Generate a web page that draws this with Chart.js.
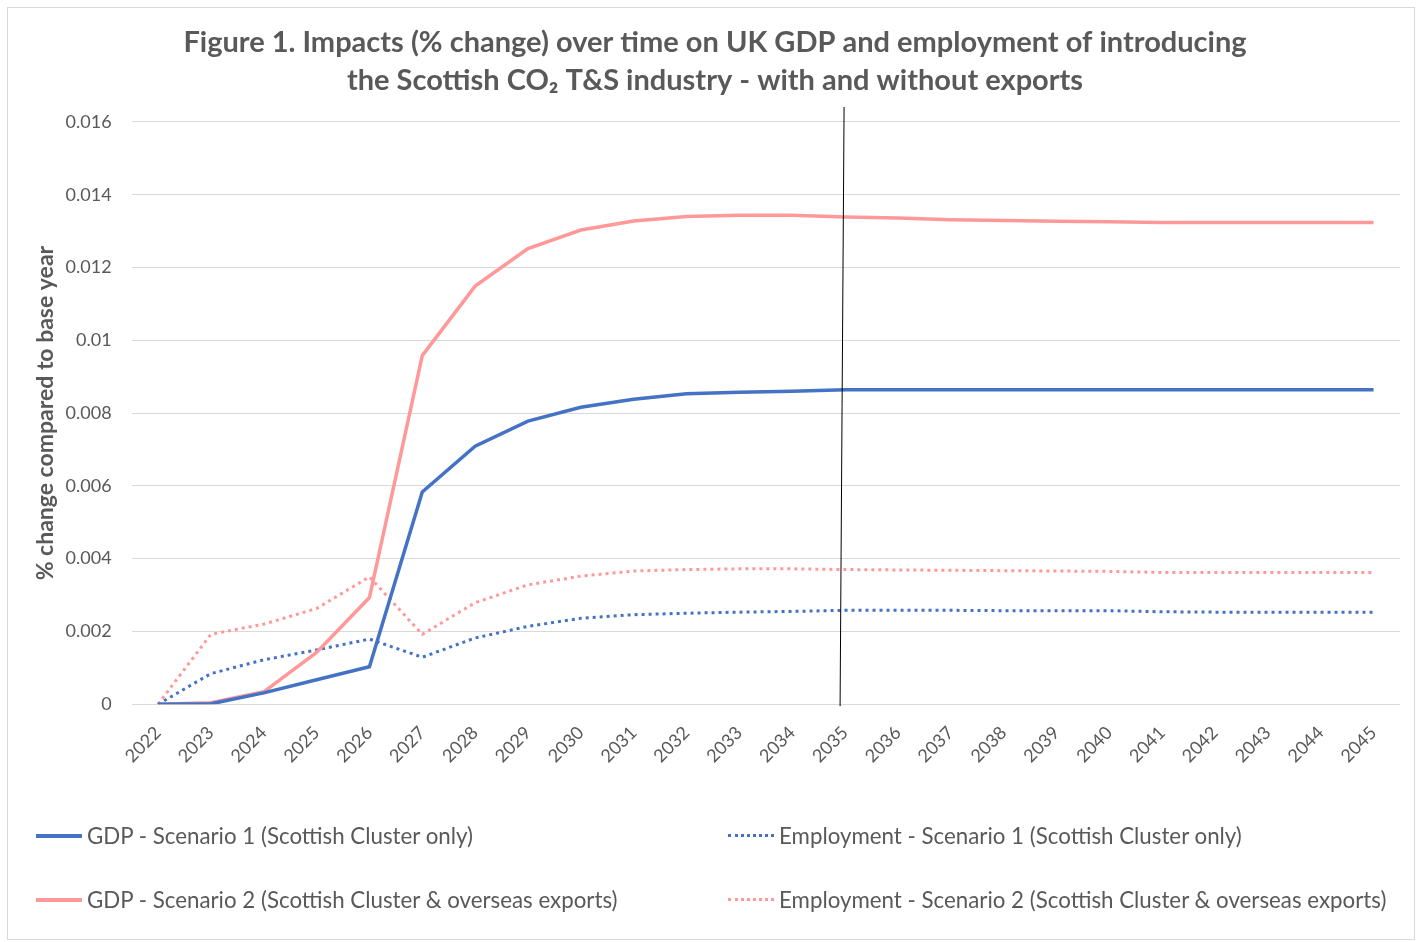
<!DOCTYPE html>
<html>
<head>
<meta charset="utf-8">
<script src="https://cdn.jsdelivr.net/npm/chart.js@4.4.1/dist/chart.umd.min.js"></script>
<style>
  html, body { margin: 0; padding: 0; background: #ffffff; }
  #marco {
    position: absolute; left: 7px; top: 7px; width: 1406px; height: 931px;
    border: 1px solid #d9d9d9; background: #fff;
  }
  #lienzo { position: absolute; left: 0; top: 0; }
  .leyenda {
    position: absolute; font-family: Lato, "Open Sans", sans-serif; font-size: 22.3px;
    color: #595959; white-space: nowrap; display: flex; align-items: center;
  }
  .muestra { display: inline-block; width: 46px; height: 0; margin-right: 5px; }
</style>
</head>
<body>
<div id="marco">
  <canvas id="lienzo"></canvas>
</div>
<script>
// Datos
const anios = ['2022','2023','2024','2025','2026','2027','2028','2029','2030','2031','2032','2033',
               '2034','2035','2036','2037','2038','2039','2040','2041','2042','2043','2044','2045'];

const gdpEsc1 = [0, 0.00001, 0.00031, 0.00067, 0.00103, 0.00583, 0.00709, 0.00778, 0.00816, 0.00838,
                 0.00853, 0.00857, 0.00860, 0.00864, 0.00864, 0.00864, 0.00864, 0.00864, 0.00864,
                 0.00864, 0.00864, 0.00864, 0.00864, 0.00864];

const gdpEsc2 = [0, 0.00004, 0.00034, 0.00142, 0.00293, 0.00958, 0.01149, 0.01252, 0.01303, 0.01328,
                 0.0134, 0.01344, 0.01344, 0.01339, 0.01336, 0.01331, 0.01329, 0.01327, 0.01326,
                 0.01324, 0.01324, 0.01324, 0.01324, 0.01324];

const empEsc1 = [0, 0.00084, 0.00122, 0.00149, 0.00179, 0.00129, 0.00182, 0.00214, 0.00236, 0.00246,
                 0.0025, 0.00253, 0.00255, 0.00258, 0.00258, 0.00258, 0.00257, 0.00257, 0.00257,
                 0.00254, 0.00253, 0.00253, 0.00253, 0.00253];

const empEsc2 = [0, 0.00192, 0.0022, 0.00263, 0.0035, 0.00192, 0.00279, 0.00328, 0.00352, 0.00366,
                 0.0037, 0.00372, 0.00372, 0.0037, 0.00369, 0.00368, 0.00367, 0.00366, 0.00365,
                 0.00362, 0.00362, 0.00362, 0.00362, 0.00362];

const etiquetasSeries = [
  'GDP - Scenario 1 (Scottish Cluster only)',
  'GDP - Scenario 2 (Scottish Cluster & overseas exports)',
  'Employment - Scenario 1 (Scottish Cluster only)',
  'Employment - Scenario 2 (Scottish Cluster & overseas exports)'
];

const anioMarcado = '2035';

const azul = '#4472c4';
const rosa = '#ff9999';
const gris = '#595959';
const fuente = 'Lato, "Open Sans", sans-serif';

const canvas = document.getElementById('lienzo');
canvas.width = 1406;
canvas.height = 931;
canvas.style.width = '1406px';
canvas.style.height = '931px';

// Línea vertical en el año marcado
const lineaVertical = {
  id: 'lineaVertical',
  afterDatasetsDraw(chart) {
    const x = chart.scales.x.getPixelForValue(anios.indexOf(anioMarcado));
    const area = chart.chartArea;
    const ctx = chart.ctx;
    ctx.save();
    ctx.strokeStyle = '#000000';
    ctx.lineWidth = 1;
    ctx.beginPath();
    ctx.moveTo(x - 1, area.top - 15);
    ctx.lineTo(x - 5, area.bottom + 2);
    ctx.stroke();
    ctx.restore();
  }
};

const chart = new Chart(canvas.getContext('2d'), {
  type: 'line',
  data: {
    labels: anios,
    datasets: [
      { label: etiquetasSeries[0], data: gdpEsc1, borderColor: azul, borderWidth: 3.5, pointRadius: 0, tension: 0 },
      { label: etiquetasSeries[1], data: gdpEsc2, borderColor: rosa, borderWidth: 3.5, pointRadius: 0, tension: 0 },
      { label: etiquetasSeries[2], data: empEsc1, borderColor: azul, borderWidth: 3, borderDash: [3, 4], pointRadius: 0, tension: 0 },
      { label: etiquetasSeries[3], data: empEsc2, borderColor: rosa, borderWidth: 3, borderDash: [3, 4], pointRadius: 0, tension: 0 }
    ]
  },
  options: {
    responsive: false,
    animation: false,
    layout: { padding: { left: 22, right: 14, top: 10, bottom: 162 } },
    plugins: {
      legend: { display: false },
      tooltip: { enabled: false },
      title: {
        display: true,
        text: ['Figure 1. Impacts (% change) over time on UK GDP and employment of introducing',
               'the Scottish CO₂ T&S industry - with and without exports'],
        color: gris,
        font: { family: fuente, size: 29, weight: 'bold', lineHeight: 1.31 },
        padding: { top: 6, bottom: 22 }
      }
    },
    scales: {
      x: {
        offset: true,
        grid: { display: false },
        border: { display: false },
        ticks: { color: gris, font: { family: fuente, size: 18 }, maxRotation: 45, minRotation: 45, padding: 10 }
      },
      y: {
        min: 0,
        max: 0.016,
        grid: { color: '#d9d9d9', lineWidth: 1, drawTicks: false },
        border: { display: false },
        ticks: {
          stepSize: 0.002,
          color: gris,
          padding: 20,
          font: { family: fuente, size: 18 },
          callback: v => String(+v.toFixed(3))
        },
        title: {
          display: true,
          text: '% change compared to base year',
          color: gris,
          font: { family: fuente, size: 23, weight: 'bold' },
          padding: { top: 2, bottom: 0 }
        },
        // Chart.js reserva el padding de las etiquetas dos veces; se recorta el sobrante
        afterFit: s => { s.width -= 14; }
      }
    }
  },
  plugins: [lineaVertical]
});

// Leyenda en dos columnas, como el original
const marco = document.getElementById('marco');
const posiciones = [
  { left: 28, top: 814, serie: 0, color: azul, estilo: 'solid', grosor: 4 },
  { left: 28, top: 878, serie: 1, color: rosa, estilo: 'solid', grosor: 4 },
  { left: 720, top: 814, serie: 2, color: azul, estilo: 'dotted', grosor: 3 },
  { left: 720, top: 878, serie: 3, color: rosa, estilo: 'dotted', grosor: 3 }
];
posiciones.forEach(p => {
  const item = document.createElement('div');
  item.className = 'leyenda';
  item.style.left = p.left + 'px';
  item.style.top = p.top + 'px';
  const muestra = document.createElement('span');
  muestra.className = 'muestra';
  muestra.style.borderTop = p.grosor + 'px ' + p.estilo + ' ' + p.color;
  const texto = document.createElement('span');
  texto.textContent = etiquetasSeries[p.serie];
  item.appendChild(muestra);
  item.appendChild(texto);
  marco.appendChild(item);
});
</script>
</body>
</html>
